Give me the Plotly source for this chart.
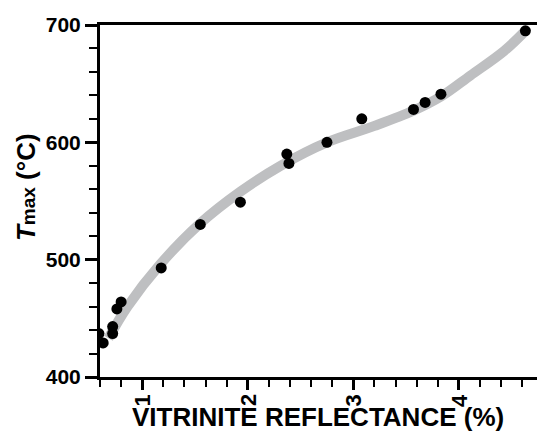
import plotly.graph_objects as go

# Measured data points (vitrinite reflectance %, Tmax °C)
ro_points = [0.59, 0.63, 0.72, 0.72, 0.76, 0.80, 1.18, 1.55, 1.93, 2.37, 2.39,
             2.75, 3.08, 3.57, 3.68, 3.83, 4.63]
tmax_points = [437, 429, 443, 437, 458, 464, 493, 530, 549, 590, 582,
               600, 620, 628, 634, 641, 695]

# Fitted trend
ro_fit = [0.68, 0.86, 1.17, 1.55, 1.93, 2.31, 2.75, 3.2, 3.57, 3.83, 4.11, 4.43, 4.63]
tmax_fit = [433, 460, 496, 531, 558, 580, 600, 614, 627, 639, 657, 678, 695]

x_tickvals = [1, 2, 3, 4]
x_ticktext = ["1", "2", "3", "4"]

FONT = "Liberation Sans"

fig = go.Figure()
fig.add_trace(go.Scatter(
    x=ro_fit, y=tmax_fit, mode="lines", line_shape="spline",
    line=dict(color="#BEBFC1", width=10), hoverinfo="skip", showlegend=False))
fig.add_trace(go.Scatter(
    x=ro_points, y=tmax_points, mode="markers",
    marker=dict(color="black", size=11), showlegend=False))

annotations = [
    dict(text="<b><i>T</i><span style='font-size:19px'>max</span> (°C)</b>",
         xref="paper", yref="paper", x=-0.169, y=0.54,
         xanchor="center", yanchor="middle", textangle=-90, showarrow=False,
         font=dict(family=FONT, size=26, color="black")),
    dict(text="<b>VITRINITE REFLECTANCE (%)</b>",
         xref="paper", yref="paper", x=0.498, y=-0.113,
         xanchor="center", yanchor="middle", showarrow=False,
         font=dict(family=FONT, size=26, color="black")),
]
for v, t in zip(x_tickvals, x_ticktext):
    annotations.append(dict(
        text=f"<b>{t}</b>", xref="x", yref="paper", x=v, y=-0.066,
        xanchor="center", yanchor="middle", textangle=-90, showarrow=False,
        font=dict(family=FONT, size=22, color="black")))

fig.update_layout(
    width=537, height=434,
    margin=dict(l=100, r=0, t=25, b=57),
    paper_bgcolor="white", plot_bgcolor="white",
    font=dict(family=FONT, color="black"),
    xaxis=dict(
        range=[0.6, 4.74], showgrid=False, zeroline=False,
        showline=True, linecolor="black", linewidth=3, mirror=True,
        ticks="outside", ticklen=10, tickwidth=3, tickcolor="black",
        tickmode="array", tickvals=x_tickvals, showticklabels=False,
        minor=dict(dtick=0.2, tick0=0, ticks="outside", ticklen=7, tickwidth=2,
                   tickcolor="black", showgrid=False),
    ),
    yaxis=dict(
        range=[400, 700], showgrid=False, zeroline=False,
        showline=True, linecolor="black", linewidth=3,
        ticks="outside", ticklen=12, tickwidth=3, tickcolor="black",
        tick0=400, dtick=100,
        tickfont=dict(family=FONT, size=21, color="black", weight="bold"),
        minor=dict(dtick=20, ticks="outside", ticklen=8, tickwidth=2,
                   tickcolor="black", showgrid=False),
    ),
    annotations=annotations,
)

fig.write_html("out.html")
